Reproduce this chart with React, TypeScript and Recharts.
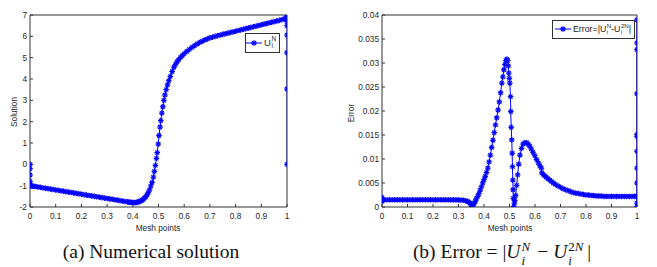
import React from 'react';
import { LineChart, Line, XAxis, YAxis } from 'recharts';

const meshTicks = [0, 0.1, 0.2, 0.3, 0.4, 0.5, 0.6, 0.7, 0.8, 0.9, 1];
const solutionTicks = [-2, -1, 0, 1, 2, 3, 4, 5, 6, 7];
const errorTicks = [0, 0.005, 0.01, 0.015, 0.02, 0.025, 0.03, 0.035, 0.04];

// (mesh point, U_i^N)
const solutionPoints: [number, number][] = [
  [0, 0], [0, -0.2], [0, -0.5], [0, -0.8], [0.0005, -0.95], [0.001, -1.0],
  [0.005, -1.01], [0.01, -1.02], [0.015, -1.03], [0.02, -1.04], [0.03, -1.06],
  [0.04, -1.08], [0.05, -1.1], [0.06, -1.12], [0.07, -1.14], [0.08, -1.16],
  [0.09, -1.18], [0.1, -1.2], [0.11, -1.22], [0.12, -1.24], [0.13, -1.26],
  [0.14, -1.28], [0.15, -1.3], [0.16, -1.32], [0.17, -1.34], [0.18, -1.36],
  [0.19, -1.38], [0.2, -1.4], [0.21, -1.42], [0.22, -1.44], [0.23, -1.46],
  [0.24, -1.48], [0.25, -1.5], [0.26, -1.52], [0.27, -1.54], [0.28, -1.56],
  [0.29, -1.58], [0.3, -1.6], [0.31, -1.62], [0.32, -1.64], [0.33, -1.66],
  [0.34, -1.68], [0.35, -1.7], [0.36, -1.72], [0.37, -1.74], [0.38, -1.76],
  [0.385, -1.77], [0.39, -1.78], [0.395, -1.785], [0.4, -1.79], [0.405, -1.795],
  [0.41, -1.79], [0.415, -1.785], [0.42, -1.77], [0.425, -1.75], [0.43, -1.72],
  [0.435, -1.69], [0.44, -1.65], [0.445, -1.59], [0.45, -1.52], [0.455, -1.44],
  [0.46, -1.33], [0.465, -1.2], [0.47, -1.02], [0.475, -0.85], [0.48, -0.6],
  [0.484, -0.33], [0.488, -0.05], [0.492, 0.28], [0.495, 0.55], [0.499, 0.95],
  [0.502, 1.35], [0.506, 1.75], [0.509, 2.05], [0.513, 2.4], [0.517, 2.7],
  [0.521, 3.0], [0.525, 3.25], [0.53, 3.5], [0.535, 3.72], [0.54, 3.92],
  [0.546, 4.12], [0.553, 4.35], [0.56, 4.55], [0.566, 4.68], [0.572, 4.8],
  [0.578, 4.9], [0.585, 5.0], [0.592, 5.09], [0.6, 5.19], [0.61, 5.29],
  [0.62, 5.39], [0.63, 5.48], [0.64, 5.56], [0.65, 5.64], [0.66, 5.71],
  [0.67, 5.77], [0.68, 5.83], [0.69, 5.88], [0.7, 5.93], [0.71, 5.96],
  [0.72, 6.0], [0.73, 6.03], [0.74, 6.06], [0.75, 6.09], [0.76, 6.12],
  [0.77, 6.15], [0.78, 6.18], [0.79, 6.21], [0.8, 6.24], [0.81, 6.27],
  [0.82, 6.3], [0.83, 6.33], [0.84, 6.36], [0.85, 6.39], [0.86, 6.42],
  [0.87, 6.45], [0.88, 6.48], [0.89, 6.51], [0.9, 6.54], [0.91, 6.57],
  [0.92, 6.6], [0.93, 6.63], [0.94, 6.66], [0.95, 6.69], [0.96, 6.72],
  [0.97, 6.75], [0.98, 6.78], [0.99, 6.82], [0.995, 6.85], [0.9985, 6.9],
  [1, 6.85], [1, 6.69], [1, 6.5], [1, 6.06], [1, 5.23], [1, 3.53], [1, 0],
];

// (mesh point, |U_i^N - U_i^2N|)
const errorPoints: [number, number][] = [
  [0, 0.002], [0, 0.0012], [0.0005, 0.0017], [0.001, 0.0015], [0.005, 0.0015],
  [0.01, 0.0015], [0.02, 0.0015], [0.03, 0.0015], [0.04, 0.0015], [0.05, 0.0015],
  [0.06, 0.0015], [0.07, 0.0015], [0.08, 0.0015], [0.09, 0.0015], [0.1, 0.0015],
  [0.11, 0.0015], [0.12, 0.0015], [0.13, 0.0015], [0.14, 0.0015], [0.15, 0.0015],
  [0.16, 0.0015], [0.17, 0.0015], [0.18, 0.0015], [0.19, 0.0015], [0.2, 0.0015],
  [0.21, 0.0015], [0.22, 0.0015], [0.23, 0.0015], [0.24, 0.0015], [0.25, 0.0015],
  [0.26, 0.0015], [0.27, 0.00149], [0.28, 0.00148], [0.29, 0.00148], [0.3, 0.00146],
  [0.31, 0.00143], [0.32, 0.0014], [0.328, 0.0013], [0.335, 0.0012], [0.34, 0.001],
  [0.345, 0.0008], [0.35, 0.0004], [0.354, 0.0001], [0.358, 0.0004], [0.362, 0.0008],
  [0.366, 0.0012], [0.37, 0.0017], [0.375, 0.0022], [0.38, 0.0028], [0.385, 0.0035],
  [0.39, 0.0042], [0.395, 0.005], [0.4, 0.0057], [0.405, 0.0064], [0.41, 0.0072],
  [0.415, 0.0081], [0.42, 0.0094], [0.425, 0.0108], [0.43, 0.0124], [0.435, 0.0139],
  [0.44, 0.0155], [0.445, 0.0171], [0.45, 0.0186], [0.455, 0.0202], [0.46, 0.0219],
  [0.465, 0.0238], [0.47, 0.0258], [0.474, 0.0271], [0.478, 0.0286], [0.482, 0.0297],
  [0.486, 0.0305], [0.4896, 0.0308], [0.493, 0.0305], [0.4955, 0.0294], [0.4974, 0.0279],
  [0.4995, 0.0268], [0.5013, 0.0258], [0.5039, 0.023], [0.505, 0.0199], [0.5065, 0.0166],
  [0.509, 0.014], [0.5104, 0.0112], [0.5117, 0.0084], [0.513, 0.0056], [0.514, 0.0036],
  [0.515, 0.0018], [0.517, 0.0001], [0.519, 0.0008], [0.521, 0.0014], [0.524, 0.0024],
  [0.528, 0.0045], [0.532, 0.0067], [0.536, 0.0089], [0.541, 0.0108], [0.547, 0.0122],
  [0.553, 0.0131], [0.56, 0.0134], [0.567, 0.0134], [0.573, 0.0131], [0.579, 0.0127],
  [0.585, 0.0121], [0.592, 0.0114], [0.599, 0.0107], [0.606, 0.0099], [0.613, 0.0092],
  [0.619, 0.0086], [0.625, 0.0081], [0.627, 0.0071], [0.632, 0.0068], [0.638, 0.0065],
  [0.644, 0.0062], [0.651, 0.0059], [0.658, 0.0056], [0.665, 0.0053], [0.672, 0.005],
  [0.68, 0.0047], [0.69, 0.0044], [0.7, 0.0041], [0.71, 0.0038], [0.72, 0.0036],
  [0.73, 0.0034], [0.74, 0.0032], [0.75, 0.003], [0.76, 0.0029], [0.77, 0.0028],
  [0.78, 0.0027], [0.79, 0.0026], [0.8, 0.0025], [0.81, 0.0025], [0.82, 0.0024],
  [0.83, 0.0024], [0.84, 0.0023], [0.85, 0.0023], [0.86, 0.0023], [0.87, 0.0022],
  [0.88, 0.0022], [0.89, 0.0022], [0.9, 0.0022], [0.91, 0.0022], [0.92, 0.0022],
  [0.93, 0.0022], [0.94, 0.0022], [0.95, 0.0022], [0.96, 0.0022], [0.97, 0.0022],
  [0.98, 0.0022], [0.99, 0.0022], [0.998, 0.0022], [1, 0.0008], [1, 0.0022],
  [1, 0.005], [1, 0.0081], [1, 0.0116], [1, 0.0147], [1, 0.0151], [1, 0.0236],
  [1, 0.0328], [1, 0.0342], [1, 0.039], [1, 0.0001],
];

const solutionData = solutionPoints.map(([x, y]) => ({ x, y }));
const errorData = errorPoints.map(([x, y]) => ({ x, y }));

const BLUE = '#0000ff';
const AXIS = '#333333';
const tickFont = { fontSize: 8.3, fill: '#262626', fontFamily: 'Liberation Sans, Arial, sans-serif' };

// matlab style '*' marker
const Star = (props: any) => {
  const { cx, cy, index } = props;
  if (cx == null || cy == null) return <g key={`s-${index}`} />;
  const r = 2.8;
  const d = 2;
  return (
    <g key={`s-${index}`} stroke={BLUE} strokeWidth={1.2}>
      <line x1={cx - r} y1={cy} x2={cx + r} y2={cy} />
      <line x1={cx} y1={cy - r} x2={cx} y2={cy + r} />
      <line x1={cx - d} y1={cy - d} x2={cx + d} y2={cy + d} />
      <line x1={cx - d} y1={cy + d} x2={cx + d} y2={cy - d} />
    </g>
  );
};

const LegendStar = ({ x, y }: { x: number; y: number }) => (
  <svg width={16} height={8} style={{ position: 'absolute', left: x, top: y }}>
    <line x1={0} y1={4} x2={16} y2={4} stroke={BLUE} strokeWidth={1} />
    <Star cx={8} cy={4} index={0} />
  </svg>
);

const abs = (left: number, top: number, extra: React.CSSProperties = {}): React.CSSProperties => ({
  position: 'absolute',
  left,
  top,
  whiteSpace: 'nowrap',
  ...extra,
});

const sansText: React.CSSProperties = {
  fontFamily: 'Liberation Sans, Arial, sans-serif',
  fontSize: 8.3,
  color: '#262626',
  lineHeight: 1,
};

// stacked sup/sub pair like U_i^N
const Scripts = ({ sup, sub, size }: { sup: React.ReactNode; sub: React.ReactNode; size: number }) => (
  <span
    style={{
      display: 'inline-flex',
      flexDirection: 'column',
      fontSize: size,
      lineHeight: 1,
      verticalAlign: 'middle',
      marginLeft: 0.5,
    }}
  >
    <span>{sup}</span>
    <span>{sub}</span>
  </span>
);

interface PanelProps {
  data: { x: number; y: number }[];
  yDomain: [number, number];
  yTicks: number[];
  yWidth: number;
  width: number;
  rightMargin: number;
}

const Panel: React.FC<PanelProps> = ({ data, yDomain, yTicks, yWidth, width, rightMargin }) => (
  <LineChart width={width} height={235} data={data} margin={{ top: 14, right: rightMargin, bottom: 0, left: 0 }}>
    <XAxis
      dataKey="x"
      type="number"
      domain={[0, 1]}
      ticks={meshTicks}
      allowDataOverflow
      height={28}
      stroke={AXIS}
      tickSize={-3}
      tickMargin={9}
      tick={tickFont}
      interval={0}
    />
    <XAxis
      xAxisId="top"
      orientation="top"
      type="number"
      domain={[0, 1]}
      ticks={meshTicks}
      height={1}
      stroke={AXIS}
      tickSize={-3}
      tick={false}
      interval={0}
    />
    <YAxis
      type="number"
      domain={yDomain}
      ticks={yTicks}
      allowDataOverflow
      width={yWidth}
      stroke={AXIS}
      tickSize={-3}
      tickMargin={6}
      tick={tickFont}
      interval={0}
    />
    <YAxis
      yAxisId="right"
      orientation="right"
      type="number"
      domain={yDomain}
      ticks={yTicks}
      width={1}
      stroke={AXIS}
      tickSize={-3}
      tick={false}
      interval={0}
    />
    <Line
      type="linear"
      dataKey="y"
      stroke={BLUE}
      strokeWidth={1}
      dot={Star}
      activeDot={false}
      isAnimationActive={false}
    />
  </LineChart>
);

const App: React.FC = () => {
  const serif: React.CSSProperties = {
    fontFamily: 'Liberation Serif, Times New Roman, serif',
    fontSize: 19.5,
    color: '#111',
    lineHeight: 1,
  };
  return (
    <div style={{ position: 'absolute', left: 0, top: 0, width: 657, height: 267, background: '#fff', overflow: 'hidden' }}>
      <div style={abs(0, 0)}>
        <Panel data={solutionData} yDomain={[-2, 7]} yTicks={solutionTicks} yWidth={30} width={330} rightMargin={42} />
      </div>
      <div style={abs(330, 0)}>
        <Panel data={errorData} yDomain={[0, 0.04]} yTicks={errorTicks} yWidth={52} width={327} rightMargin={19} />
      </div>

      {/* axis titles */}
      <div style={abs(14, 112, { ...sansText, transform: 'translate(-50%, -50%) rotate(-90deg)' })}>Solution</div>
      <div style={abs(351, 113, { ...sansText, transform: 'translate(-50%, -50%) rotate(-90deg)' })}>Error</div>
      <div style={abs(158, 228, { ...sansText, transform: 'translate(-50%, -50%)' })}>Mesh points</div>
      <div style={abs(510, 228, { ...sansText, transform: 'translate(-50%, -50%)' })}>Mesh points</div>

      {/* legend (a) */}
      <div style={abs(245, 33, { width: 35, height: 20, border: `1px solid ${AXIS}`, background: '#fff', boxSizing: 'border-box' })} />
      <LegendStar x={246} y={39} />
      <div style={abs(264, 36, { ...sansText, fontSize: 9.5, color: '#222', display: 'flex', alignItems: 'center' })}>
        <span>U</span>
        <Scripts sup="N" sub="i" size={6.5} />
      </div>

      {/* legend (b) */}
      <div style={abs(552, 20, { width: 83, height: 19, border: `1px solid ${AXIS}`, background: '#fff', boxSizing: 'border-box' })} />
      <LegendStar x={555} y={25} />
      <div style={abs(573, 23, { ...sansText, fontSize: 8.8, color: '#222', display: 'flex', alignItems: 'center' })}>
        <span>Error=|U</span>
        <Scripts sup="N" sub="i" size={6} />
        <span>-U</span>
        <Scripts sup="2N" sub="i" size={6} />
        <span>|</span>
      </div>

      {/* captions */}
      <div style={abs(151, 252, { ...serif, transform: 'translate(-50%, -50%)' })}>(a) Numerical solution</div>
      <div style={abs(502, 252, { ...serif, transform: 'translate(-50%, -50%)' })}>
        (b) Error = |<i>U</i>
        <span style={{ position: 'relative', display: 'inline-block', width: 12, height: 10 }}>
          <i style={{ position: 'absolute', left: 1, top: -8, fontSize: 13 }}>N</i>
          <i style={{ position: 'absolute', left: 1, top: 6, fontSize: 13 }}>i</i>
        </span>
        {' \u2212 '}<i>U</i>
        <span style={{ position: 'relative', display: 'inline-block', width: 20, height: 10 }}>
          <span style={{ position: 'absolute', left: 1, top: -8, fontSize: 13 }}>2<i>N</i></span>
          <i style={{ position: 'absolute', left: 1, top: 6, fontSize: 13 }}>i</i>
        </span>
        |
      </div>
    </div>
  );
};

export default App;
